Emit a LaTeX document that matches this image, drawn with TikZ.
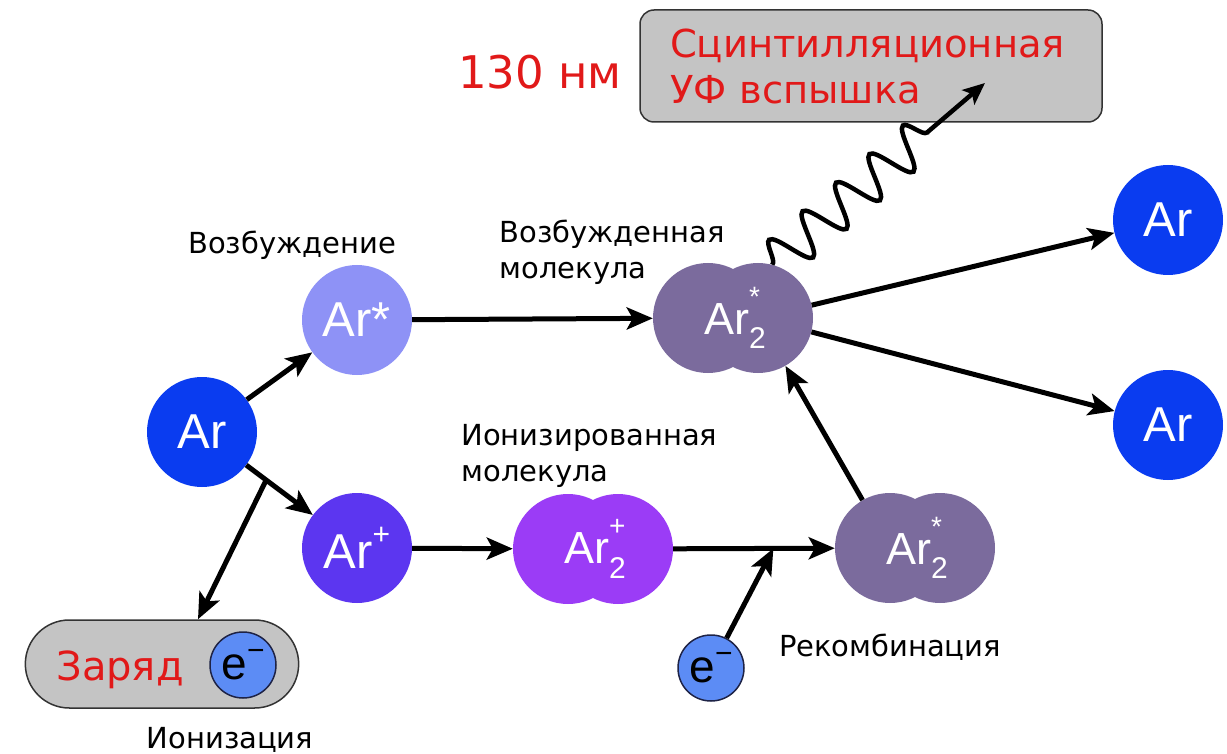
\documentclass[tikz,border=0pt]{standalone}
\usepackage{fontspec}
\setmainfont{DejaVu Sans}
\newfontfamily\arfont{Liberation Sans}
\usetikzlibrary{arrows.meta,shapes.misc,decorations.pathmorphing}
\definecolor{arblue}{RGB}{10,60,240}
\definecolor{arexc}{RGB}{142,146,246}
\definecolor{arion}{RGB}{92,54,240}
\definecolor{dimion}{RGB}{155,60,246}
\definecolor{dimexc}{RGB}{123,107,157}
\definecolor{elfill}{RGB}{92,140,245}
\definecolor{eledge}{RGB}{30,35,70}
\definecolor{boxgray}{RGB}{196,196,196}
\definecolor{redtxt}{RGB}{225,25,25}
\newcommand{\dimlab}[1]{Ar\rlap{\raisebox{0.62em}{\fontsize{28}{28}\selectfont #1}}\raisebox{-0.32em}{\fontsize{30}{30}\selectfont 2}}
\newcommand{\elab}{e\raisebox{0.42em}{\fontsize{30}{30}\selectfont −}}

\begin{document}
\begin{tikzpicture}[x=1pt,y=-1pt]
\tikzset{atom/.style={circle, minimum size=110pt, inner sep=0pt, text=white, font=\arfont\fontsize{49}{49}\selectfont},
lobe/.style={circle, minimum size=110pt, inner sep=0pt},
dimtxt/.style={text=white, font=\arfont\fontsize{45}{45}\selectfont},
elec/.style={circle, draw=eledge, line width=1.5pt, fill=elfill, minimum size=66pt, inner sep=0pt, font=\arfont\fontsize{46}{46}\selectfont},
arr/.style={-{Stealth[length=26pt,width=22pt,inset=6pt]}, line width=5pt},
lbl/.style={font=\fontsize{29}{36}\selectfont, align=left}}
\useasboundingbox (0,0) rectangle (1227,754);

\node[draw=black!80, line width=1.5pt, fill=boxgray, rounded corners=14pt, minimum height=112pt, text width=402pt, inner xsep=30pt, align=left, text=redtxt, font=\fontsize{38.5}{46}\selectfont] (flash) at (871,66) {Сцинтилляционная\\УФ вспышка};
\node[text=redtxt, font=\fontsize{45}{45}\selectfont] (nm) at (540,72) {130 нм};

\node[atom, fill=arblue] (Ar0) at (202,432) {Ar};
\node[atom, fill=arexc] (ArX) at (357,320) {Ar*};
\node[atom, fill=arion] (ArI) at (357,548) {Ar\raisebox{0.5em}{\fontsize{30}{30}\selectfont +}};

\node[lobe, fill=dimion] (DIl) at (568,549) {};
\node[lobe, fill=dimion] (DIr) at (618,549) {};
\node[dimtxt] (DI) at (595,549) {\dimlab{+}};

\node[lobe, fill=dimexc] (DXl) at (708,318) {};
\node[lobe, fill=dimexc] (DXr) at (758,318) {};
\node[dimtxt] (DX) at (735,318) {\dimlab{*}};

\node[lobe, fill=dimexc] (DRl) at (890,548) {};
\node[lobe, fill=dimexc] (DRr) at (940,548) {};
\node[dimtxt] (DR) at (917,548) {\dimlab{*}};

\node[atom, fill=arblue] (ArA) at (1168,220) {Ar};
\node[atom, fill=arblue] (ArB) at (1168,425) {Ar};

\node[rounded rectangle, draw=black!80, line width=1.5pt, fill=boxgray, minimum width=280pt, minimum height=88pt] (charge) at (162,664) {};
\node[text=redtxt, font=\fontsize{40}{40}\selectfont] (zar) at (120,670) {Заряд};
\node[elec] (eI) at (243,665) {\elab};
\node[elec] (eR) at (711,668) {\elab};

\node[lbl] (exc) at (292,245) {Возбуждение};
\node[lbl, anchor=west] (excmol) at (496,252) {Возбужденная\\молекула};
\node[lbl, anchor=west] (ionmol) at (458,456) {Ионизированная\\молекула};
\node[lbl] (rec) at (890,647) {Рекомбинация};
\node[lbl] (ion) at (230,740) {Ионизация};

\coordinate (uv) at (985,83);

\draw[arr] (Ar0) -- (ArX);
\draw[arr] (Ar0) -- coordinate[pos=0.3] (split) (ArI);
\draw[arr] (split) -- ([xshift=36pt]charge.north);
\draw[arr] (ArX) -- (DXl);
\draw[arr] (ArI) -- (DIl);
\draw[arr] (DIr) -- coordinate[pos=0.62] (join) (DRl);
\draw[arr] (eR) -- (join);
\draw[arr] (DRl) -- (DXr);
\draw[arr] (DXr) -- (ArA);
\draw[arr] (DXr) -- (ArB);
\draw[arr, line width=4.5pt, -{Stealth[length=22pt,width=19pt,inset=5pt]}, decorate, decoration={snake, amplitude=21pt, segment length=44pt, post length=55pt}] (DXr.75) -- (uv);
\end{tikzpicture}
\end{document}
